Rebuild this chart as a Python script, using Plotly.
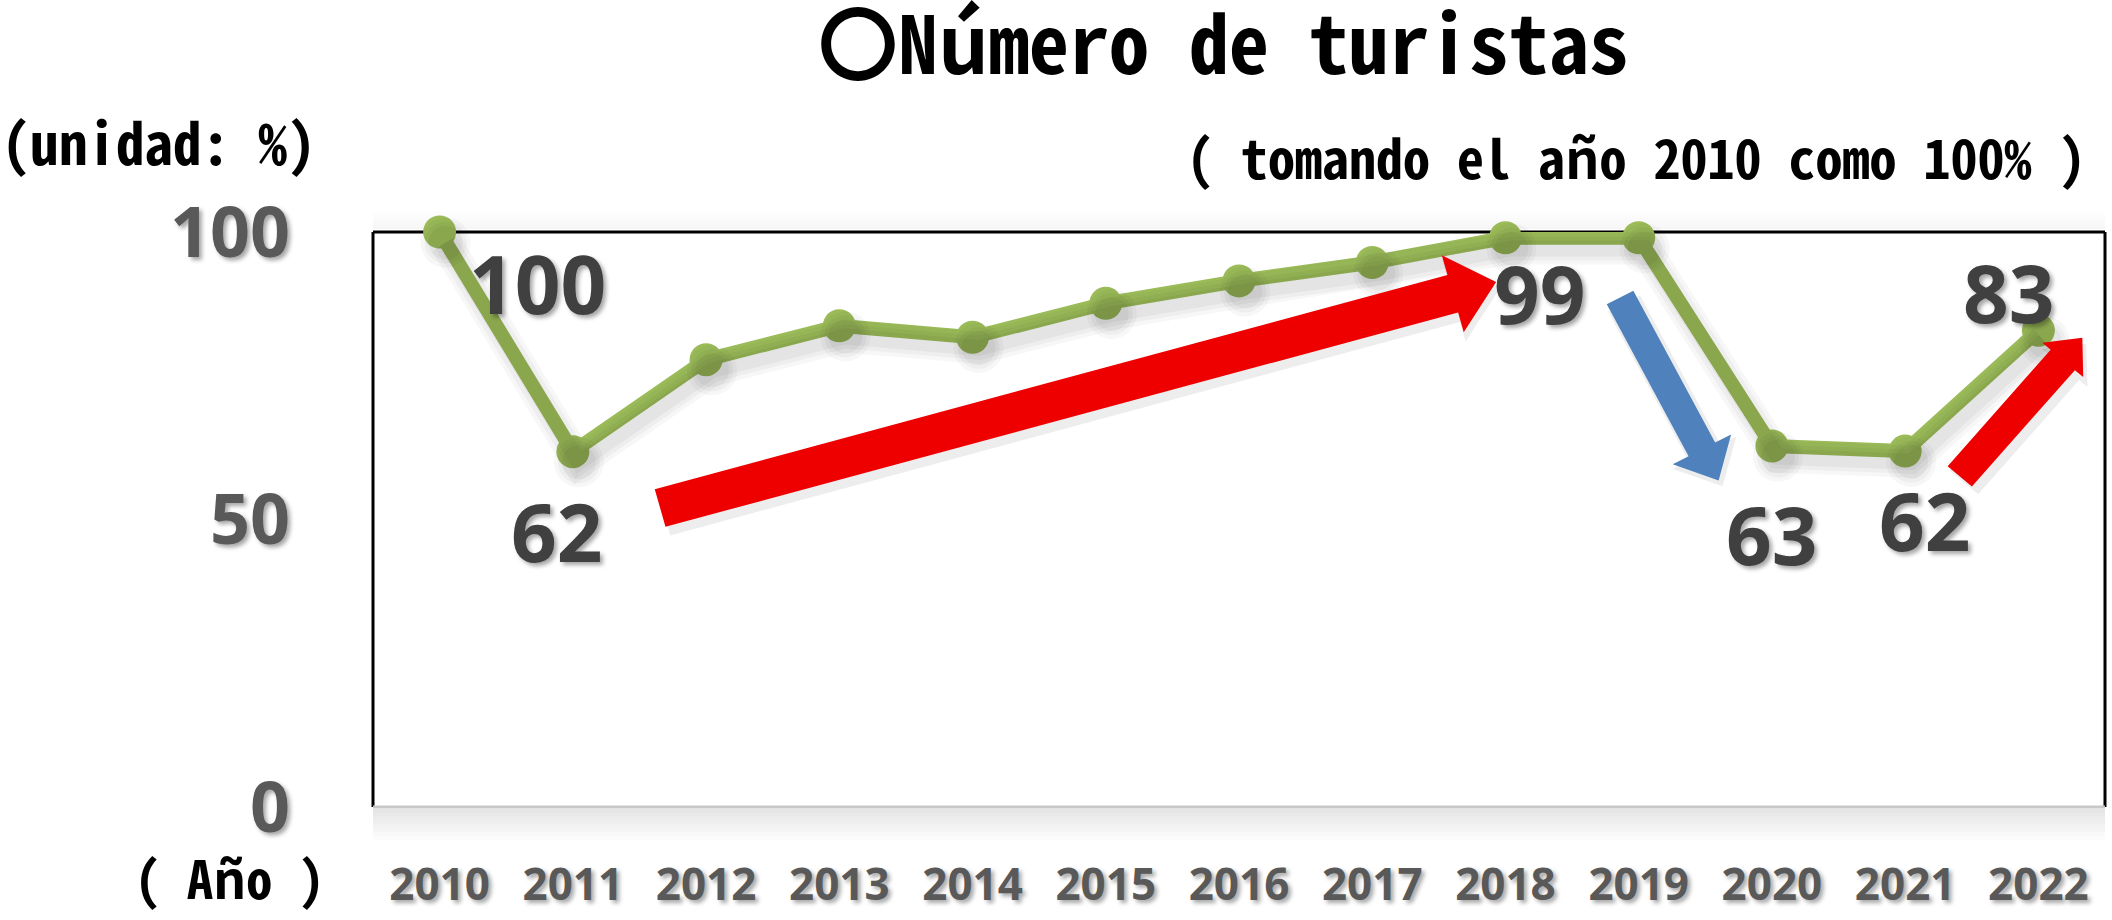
import math
import plotly.graph_objects as go

# ---------------- data ----------------
years = ["2010", "2011", "2012", "2013", "2014", "2015", "2016",
         "2017", "2018", "2019", "2020", "2021", "2022"]
values = [100, 61.8, 77.8, 83.7, 81.7, 87.6, 91.5, 94.7, 99.0, 99.0, 62.8, 61.9, 82.9]
labelled_years = ["2010", "2011", "2018", "2020", "2021", "2022"]
y_ticks = [0, 50, 100]

title_text = "〇Número de turistas"
unit_text = "(unidad: %)"
base_text = "( tomando el año 2010 como 100% )"
year_text = "( Año )"

# ---------------- layout geometry ----------------
W, H = 2112, 920
L, R, T, B = 373, 2105, 232, 822
PW, PH = R - L, B - T
YMAX = 100
NCAT = len(years)

def px_to_paper(px, py):
    return (px - L) / PW, (B - py) / PH

def data_to_px(xi, v):
    return L + (xi + 0.5) * PW / NCAT, B - v * PH / YMAX

# label offsets in pixels (dx right, dy down) relative to the point
label_offsets = {"2010": (98, 50), "2011": (-16, 79), "2018": (34, 55),
                 "2020": (0, 88), "2021": (19, 68), "2022": (-30, -39)}

# arrows: (tail category-index, tail value, tip index, tip value, shaft w, head w, head len, colour)
arrows = [
    (1.655, 52.0, 7.93, 91.3, 40, 82, 45, "#EE0000"),
    (8.86, 88.6, 9.60, 56.8, 30, 66, 36, "#4F81BD"),
    (11.41, 57.5, 12.33, 81.6, 32, 54, 30, "#EE0000"),
]

GREEN = "#9BBB59"
TICK_GRAY = "#595959"
LABEL_GRAY = "#404040"
NUM_FONT = "Open Sans, Lato, DejaVu Sans, sans-serif"
MONO_FONT = "Noto Sans Mono CJK JP, Noto Sans CJK JP, DejaVu Sans Mono, monospace"
SHADOW = "3px 3px 4px rgba(0,0,0,0.35)"

fig = go.Figure()

# soft shadow of the line (drawn on shifted overlay axes)
for w, a in [(32, 0.03), (24, 0.035), (16, 0.04)]:
    fig.add_trace(go.Scatter(
        x=years, y=values, xaxis="x2", yaxis="y2", mode="lines+markers",
        line=dict(color=f"rgba(0,0,0,{a})", width=w),
        marker=dict(size=w + 18, color=f"rgba(0,0,0,{a})"),
        hoverinfo="skip", showlegend=False, cliponaxis=False))

fig.add_trace(go.Scatter(
    x=years, y=values, mode="lines+markers",
    line=dict(color=GREEN, width=14),
    marker=dict(size=33, color=GREEN),
    showlegend=False, cliponaxis=False))

# data labels
annotations = []
for yr in labelled_years:
    i = years.index(yr)
    dx, dy = label_offsets[yr]
    annotations.append(dict(
        x=i, y=values[i], xref="x", yref="y", text=str(round(values[i])),
        showarrow=False, xshift=dx, yshift=-dy, xanchor="center", yanchor="middle",
        font=dict(family=NUM_FONT, size=80, color=LABEL_GRAY, weight="bold",
                  shadow=SHADOW)))

# texts
def text_ann(text, px, py, size, anchor="center", weight="normal", family=MONO_FONT, color="black"):
    x, y = px_to_paper(px, py)
    annotations.append(dict(x=x, y=y, xref="paper", yref="paper", text=text,
                            showarrow=False, xanchor=anchor, yanchor="middle",
                            font=dict(family=family, size=size, color=color, weight=weight)))

text_ann(title_text, 1223, 34, 80, weight="bold")
text_ann(unit_text, 0, 138, 57, anchor="left", weight="bold")
text_ann(base_text, 2088, 153, 54, anchor="right", weight="bold")
text_ann(year_text, 229, 893, 52, weight="bold")

shapes = []
# box shadows
for k in range(8):
    y0 = B + 2 + k * 4
    _, p0 = px_to_paper(0, y0)
    _, p1 = px_to_paper(0, y0 + 4)
    shapes.append(dict(type="rect", xref="paper", yref="paper", x0=0, x1=1.0, y0=p1, y1=p0,
                       fillcolor=f"rgba(0,0,0,{0.10 * (1 - k / 8):.3f})", line=dict(width=0), layer="below"))
for k in range(6):
    y0 = T - 3 - k * 3
    _, p0 = px_to_paper(0, y0)
    _, p1 = px_to_paper(0, y0 - 3)
    shapes.append(dict(type="rect", xref="paper", yref="paper", x0=0, x1=1.0, y0=p0, y1=p1,
                       fillcolor=f"rgba(0,0,0,{0.035 * (1 - k / 6):.3f})", line=dict(width=0), layer="below"))

# box border
shapes += [
    dict(type="line", xref="paper", yref="paper", x0=0, x1=1, y0=1, y1=1, line=dict(color="black", width=3), layer="below"),
    dict(type="line", xref="paper", yref="paper", x0=0, x1=0, y0=0, y1=1, line=dict(color="black", width=3), layer="below"),
    dict(type="line", xref="paper", yref="paper", x0=1, x1=1, y0=0, y1=1, line=dict(color="black", width=3), layer="below"),
    dict(type="line", xref="paper", yref="paper", x0=0, x1=1, y0=0, y1=0, line=dict(color="#C8C8C8", width=3), layer="below"),
]

# arrows
def arrow_path(x0i, v0, x1i, v1, sw, hw, hl, dx=0, dy=0):
    tx, ty = data_to_px(x0i, v0)
    px_, py_ = data_to_px(x1i, v1)
    tx += dx; ty += dy; px_ += dx; py_ += dy
    ln = math.hypot(px_ - tx, py_ - ty)
    ux, uy = (px_ - tx) / ln, (py_ - ty) / ln
    nx, ny = -uy, ux
    bx, by = px_ - ux * hl, py_ - uy * hl
    pts = [(tx + nx * sw / 2, ty + ny * sw / 2), (bx + nx * sw / 2, by + ny * sw / 2),
           (bx + nx * hw / 2, by + ny * hw / 2), (px_, py_),
           (bx - nx * hw / 2, by - ny * hw / 2), (bx - nx * sw / 2, by - ny * sw / 2),
           (tx - nx * sw / 2, ty - ny * sw / 2)]
    pp = [px_to_paper(a, b) for a, b in pts]
    return "M " + " L ".join(f"{a:.5f},{b:.5f}" for a, b in pp) + " Z"

for (a0, v0, a1, v1, sw, hw, hl, col) in arrows:
    shapes.append(dict(type="path", xref="paper", yref="paper",
                       path=arrow_path(a0, v0, a1, v1, sw + 6, hw + 6, hl + 3, dx=4, dy=6),
                       fillcolor="rgba(0,0,0,0.07)", line=dict(width=0), layer="above"))
for (a0, v0, a1, v1, sw, hw, hl, col) in arrows:
    shapes.append(dict(type="path", xref="paper", yref="paper",
                       path=arrow_path(a0, v0, a1, v1, sw, hw, hl),
                       fillcolor=col, line=dict(width=0), layer="above"))

shift_x = 6 / (PW / NCAT)
shift_y = 11 / (PH / YMAX)

fig.update_layout(
    width=W, height=H, autosize=False,
    margin=dict(l=L, r=W - R, t=T, b=H - B, pad=0),
    paper_bgcolor="white", plot_bgcolor="white",
    xaxis=dict(type="category", range=[-0.5, NCAT - 0.5], showgrid=False, zeroline=False,
               showline=False, ticks="", ticklabelstandoff=48,
               tickfont=dict(family=NUM_FONT, size=44, color=TICK_GRAY, weight="bold", shadow=SHADOW)),
    yaxis=dict(range=[0, YMAX], tickvals=y_ticks, showgrid=False, zeroline=False,
               showline=False, ticks="", ticklabelstandoff=82,
               tickfont=dict(family=NUM_FONT, size=70, color=TICK_GRAY, weight="bold", shadow=SHADOW)),
    xaxis2=dict(type="category", range=[-0.5 - shift_x, NCAT - 0.5 - shift_x], overlaying="x",
                visible=False),
    yaxis2=dict(range=[shift_y, YMAX + shift_y], overlaying="y", visible=False),
    annotations=annotations, shapes=shapes,
)

fig.write_html("out.html", config={"displayModeBar": False},
               post_script="document.body.style.margin='0';document.body.style.overflow='hidden';")
